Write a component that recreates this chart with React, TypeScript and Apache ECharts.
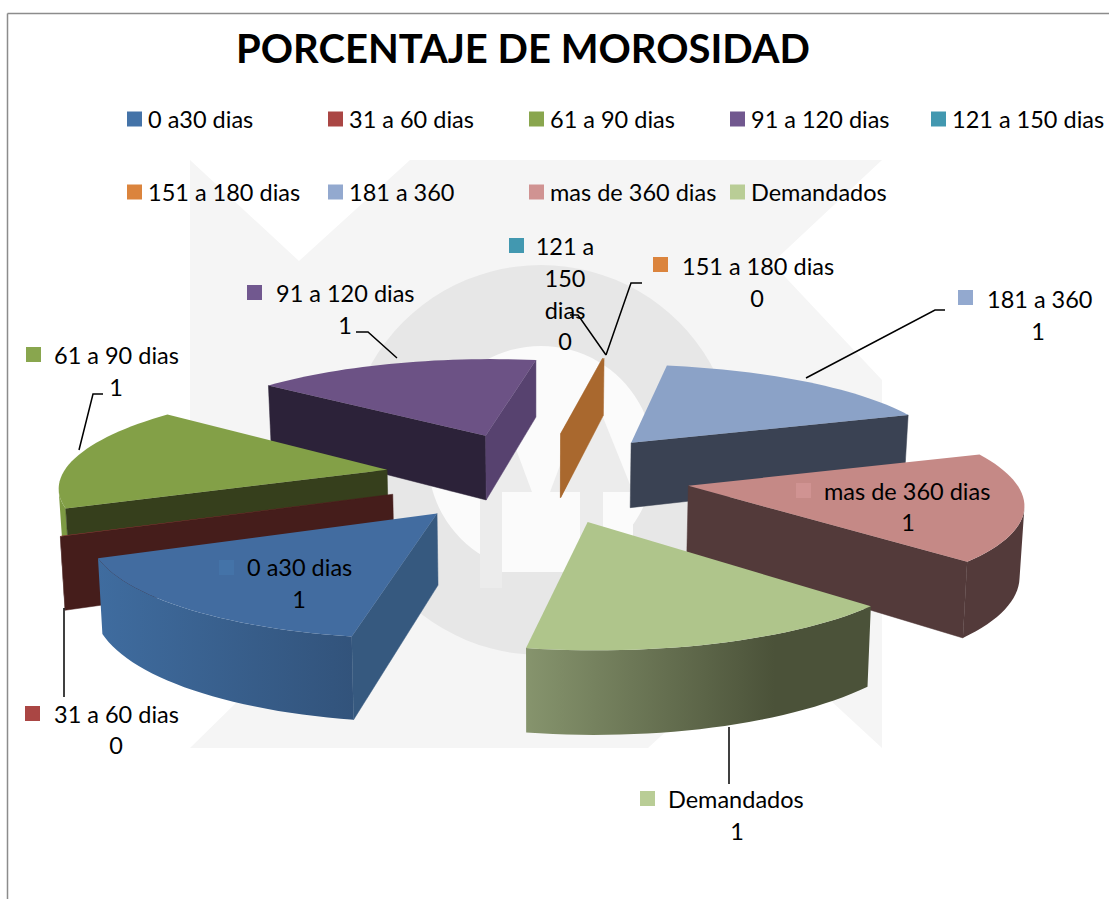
import React, { useEffect, useRef } from "react";
import * as echarts from "echarts";

const categories = ["0 a30 dias", "31 a 60 dias", "61 a 90 dias", "91 a 120 dias", "121 a 150 dias", "151 a 180 dias", "181 a 360", "mas de 360 dias", "Demandados"];
const values = [0.95, 0.005, 1.03, 1.01, 0.001, 0.004, 1.02, 1.05, 0.94];
const legendColors = ["#4473a8", "#aa4644", "#89a64e", "#71588f", "#4298b0", "#db843d", "#93a9cf", "#d09392", "#b9cd96"];
const topColors = ["#426ca0", "#8f3a38", "#83a047", "#6c5285", "#a9682e", "#a9682e", "#8ba2c7", "#c58986", "#afc58b"];
const faceColors = ["#36597f", "#451d1b", "#363f1c", "#2c2239", "#a9682e", "#a9682e", "#3a4253", "#533a3a", "#4b5239"];
const faceEndColors = ["#36597f", "#451d1b", "#363f1c", "#57426f", "#a9682e", "#a9682e", "#3a4253", "#533a3a", "#4b5239"];
const wallStops = [
  ["#3f6c9f", "#32537b"], ["#451d1b", "#451d1b"], ["#7d9a43", "#7d9a43"], ["#2c2239", "#2c2239"],
  ["#a9682e", "#a9682e"], ["#a9682e", "#a9682e"], ["#3a4253", "#3a4253"], ["#533a3a", "#533a3a"], ["#86946d", "#4b5239"],
];

// Projection of the tilted pie
const CX = 537, CY = 476, R = 325, A = 97, P = 0.135, EXPLODE = 0.47, HEIGHT = 68, START_DEG = 100;
const FONT = "Lato";
const FS = 23.5;
const LEGEND_LEFT = [127, 328, 529, 730, 931, 127, 328, 529, 730];
const LEGEND_TOP = [107, 107, 107, 107, 107, 180, 180, 180, 180];

const total = values.reduce((a, b) => a + b, 0);
const starts: number[] = [];
values.reduce((acc, v, i) => { starts[i] = acc; return acc + v; }, 0);
const rad = (i: number) => {
  const t0 = ((START_DEG + (starts[i] / total) * 360) * Math.PI) / 180;
  const t1 = t0 + (values[i] / total) * 2 * Math.PI;
  return [t0, t1];
};
const proj = (X: number, Z: number, down: boolean): number[] => {
  const s = 1 / (1 - P * Z);
  const x = CX + R * X * s;
  const y = CY + A * Z * s;
  return down ? [CX + (x - CX) * 0.99, y + HEIGHT * s] : [x, y];
};
const centerOf = (i: number) => {
  const [t0, t1] = rad(i);
  const m = (t0 + t1) / 2;
  return [EXPLODE * Math.cos(m), EXPLODE * Math.sin(m)];
};
const area = (q: number[][]) => {
  let a = 0;
  q.forEach((p, k) => { const n = q[(k + 1) % q.length]; a += p[0] * n[1] - n[0] * p[1]; });
  return a;
};

function renderSlice(i: number) {
  const [t0, t1] = rad(i);
  const [ox, oz] = centerOf(i);
  const angles: number[] = [];
  const steps = Math.max(1, Math.ceil((t1 - t0) / (Math.PI / 90)));
  for (let k = 0; k <= steps; k++) angles.push(t0 + ((t1 - t0) * k) / steps);
  const at = (t: number, down: boolean) => proj(ox + Math.cos(t), oz + Math.sin(t), down);
  const apexTop = proj(ox, oz, false);
  const apexBottom = proj(ox, oz, true);
  const quad = (t: number) => [apexTop, at(t, false), at(t, true), apexBottom];
  const children: any[] = [];
  const tops = angles.map((t) => at(t, false));
  const botsAll = angles.map((t) => at(t, true));
  // keep only the part of the rim that faces the viewer
  const runTop: number[][] = [];
  const runBot: number[][] = [];
  for (let k = 0; k < steps; k++) {
    if (area([tops[k], tops[k + 1], botsAll[k + 1], botsAll[k]]) < 0) {
      if (!runTop.length) { runTop.push(tops[k]); runBot.push(botsAll[k]); }
      runTop.push(tops[k + 1]);
      runBot.push(botsAll[k + 1]);
    }
  }
  if (runTop.length) {
    const [w0, w1] = wallStops[i];
    const wallFill = i === 8
      ? new echarts.graphic.LinearGradient(0, 0, 1, 0, [{ offset: 0, color: w0 }, { offset: 0.72, color: w1 }, { offset: 1, color: w1 }])
      : new echarts.graphic.LinearGradient(0, 0, 1, 0, [{ offset: 0, color: w0 }, { offset: 1, color: w1 }]);
    children.push({ type: "polygon", shape: { points: runTop.concat(runBot.reverse()) }, style: { fill: wallFill } });
  }
  const q0 = quad(t0);
  const q1 = quad(t1);
  if (area(q0) < 0) children.push({ type: "polygon", shape: { points: q0 }, style: { fill: faceColors[i], stroke: faceColors[i], lineWidth: 0.5 } });
  if (area(q1) > 0) children.push({ type: "polygon", shape: { points: q1 }, style: { fill: faceEndColors[i], stroke: faceEndColors[i], lineWidth: 0.5 } });
  children.push({ type: "polygon", shape: { points: [apexTop].concat(tops) }, style: { fill: topColors[i] } });
  return { type: "group", children };
}

// Placement of the data labels: key box, text lines, value, leader line
const labelLayout = [
  { key: [219, 560], textX: 247, textY: 567, lines: ["0 a30 dias"], valueX: 299, valueY: 599, leader: [] as number[][], center: false },
  { key: [25, 706], textX: 54, textY: 714, lines: ["31 a 60 dias"], valueX: 116, valueY: 745, leader: [[64, 608], [64, 697]], center: false },
  { key: [26, 347], textX: 54, textY: 355, lines: ["61 a 90 dias"], valueX: 116, valueY: 387, leader: [[103, 394], [93, 394], [79, 450]], center: false },
  { key: [247, 285], textX: 276, textY: 293, lines: ["91 a 120 dias"], valueX: 345, valueY: 325, leader: [[356, 332], [368, 332], [397, 358]], center: false },
  { key: [509, 238], textX: 565, textY: 246, lines: ["121 a", "150", "dias"], valueX: 565, valueY: 341, leader: [[570, 315], [578, 315], [606, 355]], center: true },
  { key: [653, 257], textX: 682, textY: 266, lines: ["151 a 180 dias"], valueX: 757, valueY: 298, leader: [[642, 283], [631, 283], [606, 355]], center: false },
  { key: [958, 290], textX: 987, textY: 299, lines: ["181 a 360"], valueX: 1038, valueY: 331, leader: [[945, 310], [935, 310], [806, 378]], center: false },
  { key: [796, 483], textX: 824, textY: 491, lines: ["mas de 360 dias"], valueX: 908, valueY: 522, leader: [], center: false },
  { key: [640, 791], textX: 668, textY: 799, lines: ["Demandados"], valueX: 737, valueY: 831, leader: [[729, 727], [729, 784]], center: false },
];

function renderLabel(i: number) {
  const L = labelLayout[i];
  const children: any[] = [
    { type: "rect", shape: { x: L.key[0], y: L.key[1], width: 15, height: 15 }, style: { fill: legendColors[i] } },
  ];
  if (L.leader.length) children.push({ type: "polyline", shape: { points: L.leader }, style: { stroke: "#000", lineWidth: 1.5, fill: "none" } });
  L.lines.forEach((line, k) => {
    children.push({
      type: "text", x: L.textX, y: L.textY + k * 32,
      style: { text: line, fontFamily: FONT, fontSize: FS, fill: "#000", align: L.center ? "center" : "left", verticalAlign: "middle" },
    });
  });
  children.push({
    type: "text", x: L.valueX, y: L.valueY,
    style: { text: String(Math.round(values[i])), fontFamily: FONT, fontSize: FS, fill: "#000", align: "center", verticalAlign: "middle" },
  });
  return { type: "group", children };
}

const WM_LIGHT = "#f5f5f5", WM_RING = "#e7e7e7", WM_INNER = "#fbfbfb", WM_ARROW = "#ececec";

export default function App() {
  const ref = useRef<HTMLDivElement>(null);
  useEffect(() => {
    const chart = echarts.init(ref.current!, undefined, { renderer: "svg" });
    const order = values.map((_, i) => i).sort((a, b) => centerOf(a)[1] - centerOf(b)[1]);
    chart.setOption({
      animation: false,
      backgroundColor: "#fff",
      title: {
        text: "PORCENTAJE DE MOROSIDAD", left: 518, top: 23, textAlign: "center",
        textStyle: { fontFamily: FONT, fontWeight: 700, fontSize: 40, color: "#000" },
      },
      legend: categories.map((name, i) => ({
        left: LEGEND_LEFT[i], top: LEGEND_TOP[i], padding: 0, itemWidth: 15, itemHeight: 15, selectedMode: false, icon: "rect",
        textStyle: { fontFamily: FONT, fontSize: FS, color: "#000", padding: [0, 0, 0, 1] },
        data: [name],
      })),
      graphic: {
        elements: [
          { type: "polygon", shape: { points: [[190, 160], [299, 261], [410, 160], [882, 160], [772, 263], [882, 380], [882, 748], [765, 640], [648, 748], [190, 748], [300, 640], [190, 525]] }, style: { fill: WM_LIGHT } },
          { type: "circle", shape: { cx: 541, cy: 460, r: 195 }, style: { fill: WM_RING } },
          { type: "circle", shape: { cx: 541, cy: 459, r: 113 }, style: { fill: WM_INNER } },
          { type: "polygon", shape: { points: [[449, 492], [492, 385], [532, 492]] }, style: { fill: WM_ARROW } },
          { type: "polygon", shape: { points: [[550, 492], [590, 385], [633, 492]] }, style: { fill: WM_ARROW } },
          { type: "rect", shape: { x: 480, y: 492, width: 22, height: 96 }, style: { fill: WM_ARROW } },
          { type: "rect", shape: { x: 502, y: 492, width: 78, height: 80 }, style: { fill: WM_INNER } },
          { type: "rect", shape: { x: 580, y: 492, width: 23, height: 72 }, style: { fill: WM_ARROW } },
          { type: "rect", shape: { x: 603, y: 492, width: 30, height: 58 }, style: { fill: WM_INNER } },
          { type: "line", shape: { x1: 7.5, y1: 13.5, x2: 1109, y2: 13.5 }, style: { stroke: "#8c8c8c", lineWidth: 1.5 } },
          { type: "line", shape: { x1: 7.5, y1: 13.5, x2: 7.5, y2: 899 }, style: { stroke: "#8c8c8c", lineWidth: 1.5 } },
        ],
      },
      series: [
        ...categories.map((name, i) => ({
          type: "custom",
          name,
          coordinateSystem: "none",
          z: 2 + order.indexOf(i),
          itemStyle: { color: legendColors[i] },
          data: [[values[i]]],
          renderItem: () => renderSlice(i),
        })),
        {
          type: "custom",
          name: "labels",
          coordinateSystem: "none",
          z: 30,
          data: values.map((v) => [v]),
          renderItem: (p: any) => renderLabel(p.dataIndex),
        },
      ],
    });
    return () => chart.dispose();
  }, []);
  return <div ref={ref} style={{ position: "absolute", left: 0, top: 0, width: 1109, height: 899 }} />;
}
